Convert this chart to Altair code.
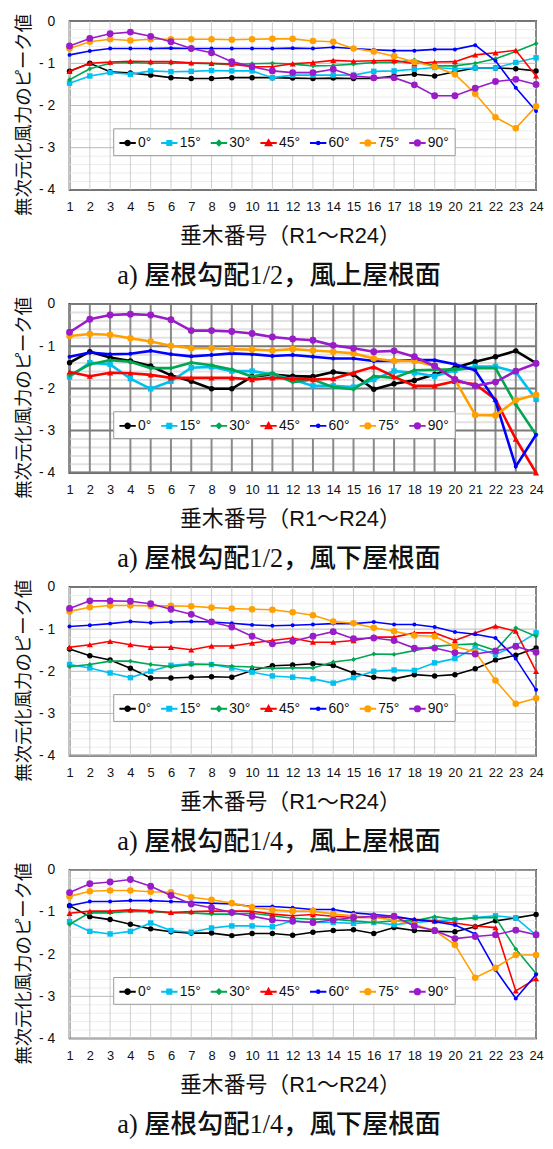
import altair as alt
import pandas as pd

rafters = list(range(1, 25))
angles = ["0°", "15°", "30°", "45°", "60°", "75°", "90°"]
colors = ["#000000", "#00c0f0", "#00a651", "#ff0000", "#0000ff", "#ffa000", "#9a1cc9"]
shapes = ["circle", "square", "diamond", "triangle-up", "circle", "circle", "circle"]
sizes = [30, 30, 24, 38, 16, 44, 48]
legend_paths = [
    "M-1,0H1M-0.28,0A0.28,0.28,0,1,0,0.28,0A0.28,0.28,0,1,0,-0.28,0Z",
    "M-1,0H1M-0.25,-0.25H0.25V0.25H-0.25Z",
    "M-1,0H1M0,-0.28L0.28,0L0,0.28L-0.28,0Z",
    "M-1,0H1M0,-0.34L0.34,0.28H-0.34Z",
    "M-1,0H1M-0.16,0A0.16,0.16,0,1,0,0.16,0A0.16,0.16,0,1,0,-0.16,0Z",
    "M-1,0H1M-0.32,0A0.32,0.32,0,1,0,0.32,0A0.32,0.32,0,1,0,-0.32,0Z",
    "M-1,0H1M-0.32,0A0.32,0.32,0,1,0,0.32,0A0.32,0.32,0,1,0,-0.32,0Z",
]

# Panel 1: roof pitch 1/2, windward
p1_0 = [-1.19, -1.00, -1.20, -1.23, -1.28, -1.34, -1.36, -1.36, -1.34, -1.34, -1.34, -1.35,
        -1.36, -1.35, -1.36, -1.36, -1.30, -1.26, -1.30, -1.20, -1.11, -1.11, -1.13, -1.18]
p1_15 = [-1.47, -1.30, -1.22, -1.26, -1.18, -1.20, -1.19, -1.17, -1.18, -1.18, -1.34, -1.28,
         -1.28, -1.28, -1.28, -1.19, -1.18, -1.14, -1.10, -1.13, -1.11, -1.11, -0.98, -0.87]
p1_30 = [-1.39, -1.13, -1.00, -0.98, -1.00, -1.00, -1.00, -1.01, -1.03, -1.01, -1.00, -1.02,
         -1.06, -1.05, -1.02, -0.98, -0.98, -0.92, -1.06, -1.06, -1.00, -0.89, -0.72, -0.53]
p1_45 = [-1.19, -1.00, -0.97, -0.95, -0.96, -0.96, -0.99, -1.00, -1.02, -1.08, -1.08, -1.01,
         -0.98, -0.93, -0.95, -0.94, -0.93, -1.01, -0.97, -0.96, -0.80, -0.75, -0.69, -1.30]
p1_60 = [-0.80, -0.71, -0.65, -0.65, -0.65, -0.64, -0.65, -0.65, -0.65, -0.65, -0.65, -0.64,
         -0.65, -0.62, -0.65, -0.68, -0.70, -0.70, -0.67, -0.67, -0.57, -0.94, -1.58, -2.13]
p1_75 = [-0.65, -0.49, -0.43, -0.46, -0.43, -0.43, -0.43, -0.43, -0.44, -0.43, -0.42, -0.42,
         -0.47, -0.49, -0.65, -0.72, -0.83, -0.97, -1.08, -1.26, -1.72, -2.28, -2.54, -2.02]
p1_90 = [-0.59, -0.41, -0.30, -0.26, -0.36, -0.49, -0.65, -0.75, -0.96, -1.08, -1.18, -1.22,
         -1.22, -1.14, -1.30, -1.34, -1.34, -1.51, -1.77, -1.77, -1.59, -1.43, -1.38, -1.50]

# Panel 2: roof pitch 1/2, leeward
p2_0 = [-1.39, -1.13, -1.27, -1.35, -1.47, -1.69, -1.83, -2.01, -2.01, -1.72, -1.67, -1.71,
        -1.72, -1.61, -1.67, -2.02, -1.89, -1.81, -1.67, -1.51, -1.37, -1.25, -1.11, -1.40]
p2_15 = [-1.73, -1.39, -1.43, -1.77, -2.01, -1.83, -1.51, -1.49, -1.59, -1.59, -1.67, -1.79,
         -1.94, -1.94, -1.97, -1.79, -1.59, -1.63, -1.71, -1.57, -1.48, -1.48, -1.61, -2.26]
p2_30 = [-1.69, -1.43, -1.33, -1.37, -1.52, -1.52, -1.39, -1.45, -1.55, -1.72, -1.64, -1.85,
         -1.79, -1.97, -2.02, -1.71, -1.75, -1.57, -1.56, -1.55, -1.52, -1.52, -2.38, -3.10]
p2_45 = [-1.61, -1.71, -1.63, -1.64, -1.68, -1.75, -1.75, -1.75, -1.75, -1.79, -1.75, -1.77,
         -1.79, -1.77, -1.63, -1.49, -1.72, -1.94, -1.94, -1.83, -1.90, -2.26, -3.20, -4.00]
p2_60 = [-1.25, -1.15, -1.19, -1.18, -1.11, -1.19, -1.24, -1.21, -1.17, -1.19, -1.23, -1.21,
         -1.25, -1.29, -1.29, -1.35, -1.35, -1.33, -1.33, -1.43, -1.57, -2.30, -3.85, -3.10]
p2_75 = [-0.76, -0.71, -0.73, -0.81, -0.89, -0.99, -1.05, -1.05, -1.07, -1.08, -1.10, -1.07,
         -1.10, -1.13, -1.17, -1.29, -1.35, -1.35, -1.47, -1.79, -2.63, -2.64, -2.28, -2.15]
p2_90 = [-0.67, -0.36, -0.26, -0.24, -0.26, -0.37, -0.63, -0.63, -0.65, -0.70, -0.78, -0.83,
         -0.86, -0.98, -1.05, -1.13, -1.11, -1.25, -1.47, -1.79, -1.94, -1.85, -1.59, -1.41]

# Panel 3: roof pitch 1/4, windward
p3_0 = [-1.47, -1.63, -1.73, -1.93, -2.16, -2.16, -2.14, -2.13, -2.14, -1.98, -1.87, -1.85,
        -1.82, -1.86, -2.04, -2.14, -2.18, -2.08, -2.11, -2.08, -1.94, -1.73, -1.62, -1.45]
p3_15 = [-1.84, -1.92, -2.04, -2.15, -2.00, -1.86, -1.82, -1.84, -1.92, -2.02, -2.11, -2.14,
         -2.18, -2.28, -2.15, -2.00, -1.97, -1.98, -1.80, -1.70, -1.44, -1.60, -1.39, -1.09]
p3_30 = [-1.89, -1.84, -1.76, -1.76, -1.84, -1.89, -1.84, -1.84, -1.88, -1.90, -1.93, -1.92,
         -1.92, -1.78, -1.72, -1.59, -1.60, -1.51, -1.41, -1.37, -1.35, -1.51, -0.97, -1.17]
p3_45 = [-1.43, -1.37, -1.29, -1.37, -1.43, -1.43, -1.49, -1.40, -1.40, -1.33, -1.27, -1.21,
         -1.31, -1.31, -1.27, -1.19, -1.19, -1.09, -1.09, -1.27, -1.09, -0.93, -1.05, -2.00]
p3_60 = [-0.94, -0.91, -0.87, -0.82, -0.85, -0.83, -0.82, -0.83, -0.86, -0.90, -0.92, -0.91,
         -0.89, -0.87, -0.87, -0.83, -0.89, -0.89, -0.95, -1.07, -1.12, -1.21, -1.70, -2.44]
p3_75 = [-0.58, -0.48, -0.44, -0.44, -0.45, -0.45, -0.46, -0.49, -0.51, -0.53, -0.54, -0.60,
         -0.67, -0.82, -0.86, -0.97, -1.05, -1.15, -1.17, -1.41, -1.54, -2.22, -2.77, -2.64]
p3_90 = [-0.51, -0.33, -0.33, -0.34, -0.40, -0.53, -0.65, -0.83, -0.95, -1.17, -1.35, -1.29,
         -1.17, -1.06, -1.23, -1.21, -1.27, -1.45, -1.45, -1.56, -1.59, -1.52, -1.41, -1.55]

# Panel 4: roof pitch 1/4, leeward
p4_0 = [-0.85, -1.11, -1.18, -1.29, -1.40, -1.47, -1.50, -1.50, -1.56, -1.51, -1.51, -1.55,
        -1.48, -1.44, -1.42, -1.51, -1.37, -1.44, -1.46, -1.47, -1.35, -1.21, -1.14, -1.06]
p4_15 = [-1.23, -1.46, -1.52, -1.46, -1.26, -1.44, -1.48, -1.38, -1.33, -1.33, -1.35, -1.21,
         -1.25, -1.25, -1.27, -1.25, -1.30, -1.25, -1.21, -1.18, -1.13, -1.09, -1.14, -1.55]
p4_30 = [-1.29, -1.02, -1.02, -0.98, -0.99, -1.02, -1.02, -1.05, -1.05, -1.03, -1.09, -1.15,
         -1.17, -1.17, -1.21, -1.25, -1.21, -1.21, -1.11, -1.17, -1.14, -1.13, -1.88, -2.46]
p4_45 = [-1.03, -0.98, -0.98, -0.95, -0.97, -1.01, -0.99, -0.98, -0.98, -0.98, -1.05, -1.09,
         -1.06, -1.10, -1.13, -1.13, -1.13, -1.17, -1.21, -1.26, -1.33, -1.37, -2.87, -2.58]
p4_60 = [-0.85, -0.75, -0.75, -0.73, -0.73, -0.75, -0.77, -0.79, -0.81, -0.87, -0.87, -0.90,
         -0.94, -0.94, -1.02, -1.06, -1.10, -1.18, -1.23, -1.31, -1.52, -2.37, -3.05, -2.48]
p4_75 = [-0.63, -0.51, -0.49, -0.49, -0.52, -0.53, -0.65, -0.71, -0.79, -0.89, -0.95, -0.98,
         -0.98, -1.05, -1.09, -1.13, -1.19, -1.30, -1.44, -1.78, -2.56, -2.32, -2.02, -2.02]
p4_90 = [-0.54, -0.33, -0.29, -0.23, -0.39, -0.61, -0.81, -0.90, -1.01, -1.10, -1.19, -1.22,
         -1.25, -1.19, -1.13, -1.10, -1.10, -1.33, -1.44, -1.63, -1.58, -1.54, -1.43, -1.54]

captions = [
    "a)  屋根勾配1/2，風上屋根面",
    "a)  屋根勾配1/2，風下屋根面",
    "a)  屋根勾配1/4，風上屋根面",
    "a)  屋根勾配1/4，風下屋根面",
]
x_title = "垂木番号（R1～R24）"
y_title = "無次元化風力のピーク値"
y_major = [0, -1, -2, -3, -4]
y_minor = [-0.2, -0.4, -0.6, -0.8, -1.2, -1.4, -1.6, -1.8, -2.2, -2.4, -2.6, -2.8,
           -3.2, -3.4, -3.6, -3.8]

panels = [
    [p1_0, p1_15, p1_30, p1_45, p1_60, p1_75, p1_90],
    [p2_0, p2_15, p2_30, p2_45, p2_60, p2_75, p2_90],
    [p3_0, p3_15, p3_30, p3_45, p3_60, p3_75, p3_90],
    [p4_0, p4_15, p4_30, p4_45, p4_60, p4_75, p4_90],
]

W, H = 470, 170
JP = "Noto Sans CJK JP"
SANS = "Liberation Sans, Arial, " + JP

x_axis = alt.Axis(
    title=x_title, values=rafters, grid=False, ticks=False, domain=False,
    labelFont=SANS, labelFontSize=13, labelColor="#111111", labelPadding=11,
    labelOverlap=False, labelFlush=False,
    titleFont=SANS, titleFontSize=22, titleFontWeight="normal", titleColor="#111111",
    titlePadding=12, titleX=222)
y_axis = alt.Axis(
    title=y_title, values=y_major, grid=False, ticks=False, domain=False,
    labelExpr="datum.value == 0 ? '0' : '- ' + abs(datum.value)",
    labelFont=SANS, labelFontSize=14, labelColor="#111111", labelPadding=15,
    labelOverlap=False,
    titleFont=JP, titleFontSize=18.5, titleFontWeight="normal", titleColor="#111111",
    titleX=-46, titleY=94, titleBaseline="middle", titleAngle=270)


def build(series, caption, heavy):
    rows = []
    for a, vals in zip(angles, series):
        for r, v in zip(rafters, vals):
            rows.append({"rafter": r, "value": v, "angle": a})
    df = pd.DataFrame(rows)

    xs = alt.Scale(domain=[1, 24], nice=False)
    ys = alt.Scale(domain=[-4, 0], nice=False)

    vgrid_c = "#8a8a8a" if heavy else "#cfcfcf"
    vgrid_w = 2 if heavy else 1
    major_c = "#7a7a7a" if heavy else "#b8b8b8"
    major_w = 2 if heavy else 1
    minor_c = "#e2e2e2" if heavy else "#ececec"
    minor_w = 2 if heavy else 1
    lw = 2.6 if heavy else 1.6

    minor = alt.Chart(pd.DataFrame({"y": y_minor})).mark_rule(
        color=minor_c, strokeWidth=minor_w).encode(y=alt.Y("y:Q", scale=ys, axis=y_axis))
    vgrid = alt.Chart(pd.DataFrame({"x": rafters})).mark_rule(
        color=vgrid_c, strokeWidth=vgrid_w).encode(x=alt.X("x:Q", scale=xs, axis=x_axis))
    major = alt.Chart(pd.DataFrame({"y": y_major})).mark_rule(
        color=major_c, strokeWidth=major_w).encode(y=alt.Y("y:Q", scale=ys, axis=y_axis))

    layers = [minor, vgrid, major]
    base = alt.Chart(df).encode(
        x=alt.X("rafter:Q", scale=xs, axis=x_axis),
        y=alt.Y("value:Q", scale=ys, axis=y_axis),
    )
    for a, c, s, z in zip(angles, colors, shapes, sizes):
        sub = base.transform_filter(alt.datum.angle == a)
        layers.append(sub.mark_line(color=c, strokeWidth=lw))
        layers.append(sub.mark_point(filled=True, opacity=1, color=c, shape=s, size=z))

    leg = dict(
        title=None, orient="none", legendX=44, legendY=108, direction="horizontal",
        columns=7, fillColor="white", strokeColor="#999999", padding=5,
        labelFont=SANS, labelFontSize=14, labelColor="#111111", labelOffset=1,
        columnPadding=5, symbolSize=272, symbolStrokeWidth=2, symbolOpacity=1,
    )
    legend_layer = base.transform_filter("false").mark_point(
        filled=True, size=272, strokeWidth=2, opacity=1).encode(
        color=alt.Color("angle:N", scale=alt.Scale(domain=angles, range=colors),
                        legend=alt.Legend(**leg)),
        stroke=alt.Stroke("angle:N", scale=alt.Scale(domain=angles, range=colors),
                          legend=alt.Legend(**leg)),
        shape=alt.Shape("angle:N", scale=alt.Scale(domain=angles, range=legend_paths),
                        legend=alt.Legend(**leg)),
    )
    layers.append(legend_layer)

    return alt.layer(*layers).properties(
        width=W, height=H,
        view=alt.ViewBackground(stroke="#111111", strokeWidth=2 if heavy else 1.6),
        title=alt.TitleParams(
            caption, orient="bottom", anchor="middle", frame="bounds",
            font="Liberation Serif, " + JP, fontSize=26.5, fontWeight=500,
            color="#111111", offset=17),
    )


charts = [build(s, c, i == 1) for i, (s, c) in enumerate(zip(panels, captions))]
chart = alt.vconcat(*charts, spacing=4).properties(
    padding={"left": 5, "top": 0, "right": 0, "bottom": 0}
).configure(
    background="white"
).resolve_scale(color="independent", stroke="independent", shape="independent")

chart.save("out.html", embed_options={"renderer": "svg", "actions": False})
